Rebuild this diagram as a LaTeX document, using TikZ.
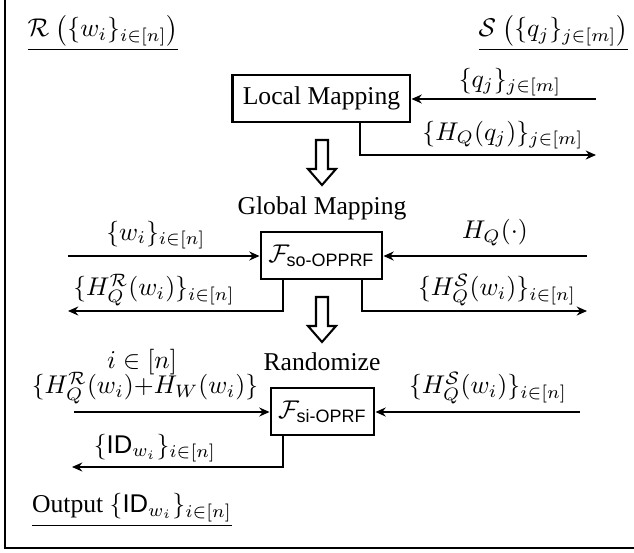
\documentclass[tikz,border=0pt]{standalone}
\usepackage{amsmath,amssymb}
\usepackage[no-math]{fontspec}
\setmainfont{Liberation Serif}
\setsansfont{Liberation Sans}
\usetikzlibrary{arrows.meta,positioning,calc}

\begin{document}
\begin{tikzpicture}[x=0.39pt,y=-0.39pt,
  box/.style={draw, line width=0.8pt, minimum height=18.4pt, inner xsep=3pt},
  flow/.style={-{Stealth[length=4pt,width=3.5pt]}, line width=0.8pt},
  hollow/.style={draw, line width=0.8pt, fill=white, line join=miter},
  party/.style={inner sep=0.5pt}]
\useasboundingbox (0,0) rectangle (634,552);
% Frame
\draw[line width=0.8pt] (5,0) -- (5,548) -- (634,548);
% Parties
\node[party] (rcv) at (103,33) {\underline{$\mathcal{R}$ $\big(\{w_i\}_{i\in[n]}\big)$}};
\node[party] (snd) at (553.5,33) {\underline{$\mathcal{S}$ $\big(\{q_j\}_{j\in[m]}\big)$}};
% Local mapping
\node[box, minimum width=69.4pt] (lm) at (321.5,98.5) {Local Mapping};
\coordinate (qin) at (596,99);
\coordinate (hqout) at (596,155);
\draw[flow] (qin) -- (qin -| lm.east);
\draw[flow] ([xshift=15pt]lm.south) |- (hqout);
\node (qlab) at (510,82) {$\{q_j\}_{j\in[m]}$};
\node (hqlab) at (503,135) {$\{H_Q(q_j)\}_{j\in[m]}$};
% Step arrows
\foreach \ya in {140,297}
  \draw[hollow] (316,\ya) -- (328,\ya) -- (328,\ya+29) -- (336,\ya+29)
    -- (322,\ya+45) -- (308,\ya+29) -- (316,\ya+29) -- cycle;
% Global mapping
\node (glob) at (322,208) {Global Mapping};
\node[box, minimum width=45.6pt] (so) at (321.5,255.5) {$\mathcal{F}_{\textsf{so-OPPRF}}$};
\coordinate (win) at (68,256);
\coordinate (hin) at (587,256);
\coordinate (hrout) at (68,311);
\coordinate (hsout) at (587,311);
\draw[flow] (win) -- (win -| so.west);
\draw[flow] (hin) -- (hin -| so.east);
\draw[flow] ([xshift=-15pt]so.south) |- (hrout);
\draw[flow] ([xshift=15.8pt]so.south) |- (hsout);
\node (wlab) at (156,235) {$\{w_i\}_{i\in[n]}$};
\node (hlab) at (495,233) {$H_Q(\cdot)$};
\node (hrlab) at (154,290) {$\{H_Q^{\mathcal{R}}(w_i)\}_{i\in[n]}$};
\node (hslab) at (497,290) {$\{H_Q^{\mathcal{S}}(w_i)\}_{i\in[n]}$};
% Randomize
\node (rnd) at (322,362) {Randomize};
\node (iset) at (142,362) {$i\in[n]$};
\node[box, minimum width=39.4pt] (si) at (322.5,411.5) {$\mathcal{F}_{\textsf{si-OPRF}}$};
\coordinate (hwin) at (74,412);
\coordinate (hsin) at (580,412);
\coordinate (idout) at (72,467);
\draw[flow] (hwin) -- (hwin -| si.west);
\draw[flow] (hsin) -- (hsin -| si.east);
\draw[flow] ([xshift=-15.4pt]si.south) |- (idout);
\node (hwlab) at (145,388) {$\{H_Q^{\mathcal{R}}(w_i){+}H_W(w_i)\}$};
\node (hs2lab) at (488,388) {$\{H_Q^{\mathcal{S}}(w_i)\}_{i\in[n]}$};
\node (idlab) at (155,448) {$\{\textsf{ID}_{w_i}\}_{i\in[n]}$};
% Output
\node (out) at (132,510) {\underline{Output $\{\textsf{ID}_{w_i}\}_{i\in[n]}$}};
\end{tikzpicture}
\end{document}
